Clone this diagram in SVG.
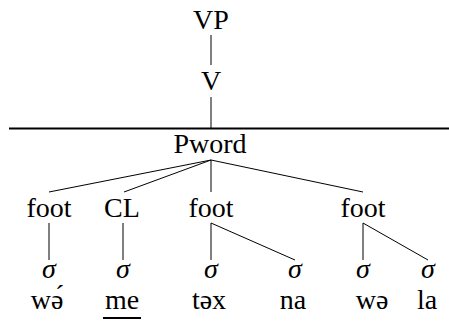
<svg xmlns="http://www.w3.org/2000/svg" width="449" height="323" viewBox="0 0 449 323">
<style>
.t{font-size:28px;fill:#000;text-anchor:middle}
.s{font-style:italic}
.c line{stroke:#000;stroke-width:1}
</style>
<rect width="449" height="323" fill="#fff"/>
<g id="connectors" class="c">
<line x1="211" y1="35" x2="211" y2="65"/>
<line x1="211" y1="97" x2="211" y2="128"/>
<line x1="9" y1="128.5" x2="449" y2="128.5" style="stroke-width:2"/>
<line x1="211" y1="160" x2="49" y2="192"/>
<line x1="211" y1="160" x2="124" y2="192"/>
<line x1="211" y1="160" x2="211" y2="192"/>
<line x1="211" y1="160" x2="363" y2="192"/>
<line x1="49" y1="223" x2="49" y2="260"/>
<line x1="123" y1="223" x2="123" y2="260"/>
<line x1="211" y1="223" x2="211" y2="260"/>
<line x1="211" y1="223" x2="295" y2="260"/>
<line x1="363" y1="223" x2="363" y2="260"/>
<line x1="363" y1="223" x2="428" y2="260"/>
</g>
<g id="VP"><text class="t" font-family="Liberation Serif" x="211" y="29">VP</text></g>
<g id="V"><text class="t" font-family="Liberation Serif" x="211" y="90">V</text></g>
<g id="Pword"><text class="t" font-family="Liberation Serif" x="210" y="153">Pword</text></g>
<g id="foot1"><text class="t" font-family="Liberation Serif" x="49" y="217">foot</text></g>
<g id="CL"><text class="t" font-family="Liberation Serif" x="122" y="217">CL</text></g>
<g id="foot2"><text class="t" font-family="Liberation Serif" x="211" y="217">foot</text></g>
<g id="foot3"><text class="t" font-family="Liberation Serif" x="363" y="217">foot</text></g>
<g id="s1"><text class="t s" font-family="Liberation Serif" x="49" y="278">σ</text></g>
<g id="s2"><text class="t s" font-family="Liberation Serif" x="123" y="278">σ</text></g>
<g id="s3"><text class="t s" font-family="Liberation Serif" x="211" y="278">σ</text></g>
<g id="s4"><text class="t s" font-family="Liberation Serif" x="295" y="278">σ</text></g>
<g id="s5"><text class="t s" font-family="Liberation Serif" x="363" y="278">σ</text></g>
<g id="s6"><text class="t s" font-family="Liberation Serif" x="428" y="278">σ</text></g>
<g id="w1"><text class="t" font-family="Liberation Serif" x="47" y="309">wə́</text></g>
<g id="w2"><text class="t" font-family="Liberation Serif" x="122" y="309">me</text><line x1="103" y1="318" x2="141" y2="318" stroke="#000" stroke-width="2"/></g>
<g id="w3"><text class="t" font-family="Liberation Serif" x="209" y="309">təx</text></g>
<g id="w4"><text class="t" font-family="Liberation Serif" x="293" y="309">na</text></g>
<g id="w5"><text class="t" font-family="Liberation Serif" x="372" y="309">wə</text></g>
<g id="w6"><text class="t" font-family="Liberation Serif" x="427" y="309">la</text></g>
</svg>
